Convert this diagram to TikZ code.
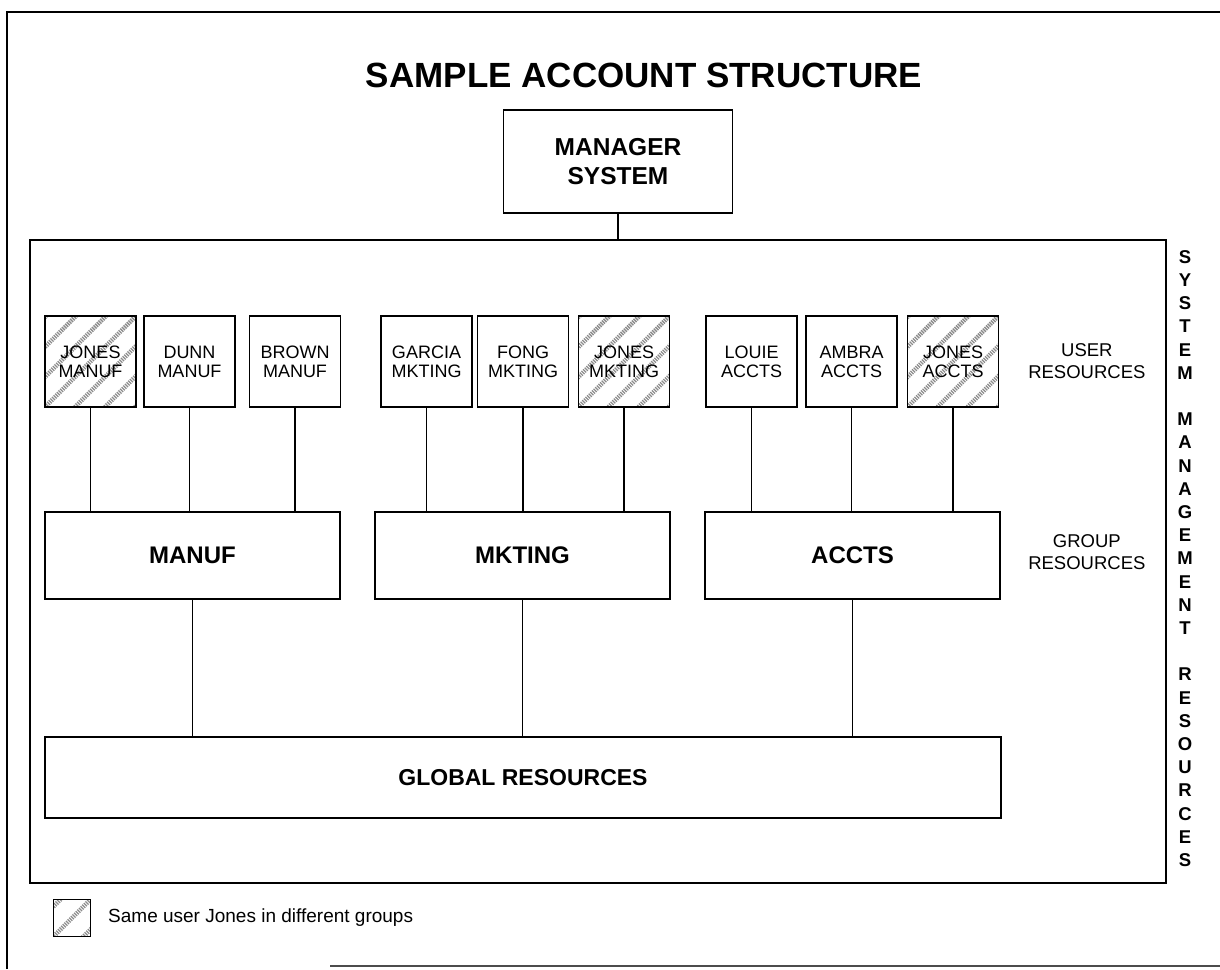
\documentclass[tikz,border=0pt]{standalone}
\usepackage{fontspec}
\setmainfont{Liberation Sans}
\usetikzlibrary{calc}

\tikzset{
  thick line/.style={line width=1.8pt},
  userbox/.style={draw, thick line, minimum width=91pt, minimum height=91pt,
    inner sep=0pt, align=center, font=\fontsize{18}{19}\selectfont},
  groupbox/.style={draw, thick line, minimum width=295pt, minimum height=87pt,
    inner sep=0pt, font=\bfseries\fontsize{24}{25}\selectfont},
  sidelabel/.style={anchor=east, align=center, font=\fontsize{18.5}{22}\selectfont},
  vletter/.style={inner sep=0pt, font=\bfseries\fontsize{18.5}{19}\selectfont},
  link/.style={thick line},
  hatch/.style={line width=4.5pt, black!45, dash pattern=on 1.3pt off 1pt},
  % diagonal hatching inside a box, under its text
  shared/.style={path picture={
    \foreach \k in {-5,...,5}
      \draw[hatch] ($(path picture bounding box.center)+(\k*30-70,70)$) -- ++(140,-140);
  }},
}

\begin{document}
\begin{tikzpicture}[x=1pt, y=-1pt]
  \useasboundingbox (0,0) rectangle (1220,969);

  % sheet border
  \draw[line width=1.5pt] (7,969) -- (7,12) -- (1220,12);
  \draw[line width=1.2pt, black!70] (330,966) -- (1220,966);

  % title
  \node[font=\bfseries\fontsize{35}{36}\selectfont] (title) at (644,75) {SAMPLE ACCOUNT STRUCTURE};

  % manager account and the system frame
  \node[draw, thick line, minimum width=229pt, minimum height=103pt, inner sep=0pt,
        align=center, font=\bfseries\fontsize{24.5}{29}\selectfont] (mgr) at (618,161.5) {MANAGER\\SYSTEM};
  \node[draw, thick line, minimum width=1136pt, minimum height=643pt, inner sep=0pt] (sys) at (598,561.5) {};
  \draw[link] (mgr.south) -- (mgr.south |- sys.north);

  % user accounts
  \node[userbox, shared] (u1) at (90.5,361.5) {JONES\\MANUF};
  \node[userbox] (u2) at (189.5,361.5) {DUNN\\MANUF};
  \node[userbox] (u3) at (295,361.5) {BROWN\\MANUF};
  \node[userbox] (u4) at (426.5,361.5) {GARCIA\\MKTING};
  \node[userbox] (u5) at (523,361.5) {FONG\\MKTING};
  \node[userbox, shared] (u6) at (624,361.5) {JONES\\MKTING};
  \node[userbox] (u7) at (751.5,361.5) {LOUIE\\ACCTS};
  \node[userbox] (u8) at (851.5,361.5) {AMBRA\\ACCTS};
  \node[userbox, shared] (u9) at (953,361.5) {JONES\\ACCTS};

  % groups
  \node[groupbox] (g1) at (192.5,555.5) {MANUF};
  \node[groupbox] (g2) at (522.5,555.5) {MKTING};
  \node[groupbox] (g3) at (852.5,555.5) {ACCTS};

  % global resources
  \node[draw, thick line, minimum width=956pt, minimum height=81pt, inner sep=0pt,
        font=\bfseries\fontsize{23}{24}\selectfont] (glob) at (523,777.5) {GLOBAL RESOURCES};

  % user-to-group links
  \foreach \usr/\grp in {u1/g1,u2/g1,u3/g1,u4/g2,u5/g2,u6/g2,u7/g3,u8/g3,u9/g3}
    \draw[link] (\usr.south) -- (\usr.south |- \grp.north);
  % group-to-global links
  \foreach \grp in {g1,g2,g3}
    \draw[link] (\grp.south) -- (\grp.south |- glob.north);

  % level labels
  \node[sidelabel] (ulab) at (1149,361) {USER\\RESOURCES};
  \node[sidelabel] (glab) at (1149,552) {GROUP\\RESOURCES};

  % vertical caption
  \foreach \ch [count=\i from 0] in {S,Y,S,T,E,M}
    \node[vletter] (vs\i) at (1185,257+\i*23.2) {\ch};
  \foreach \ch [count=\i from 7] in {M,A,N,A,G,E,M,E,N,T}
    \node[vletter] (vm\i) at (1185,257+\i*23.2) {\ch};
  \foreach \ch [count=\i from 18] in {R,E,S,O,U,R,C,E,S}
    \node[vletter] (vr\i) at (1185,257+\i*23.2) {\ch};

  % legend
  \node[draw, thick line, shared, minimum size=37pt, inner sep=0pt] (leg) at (72,918) {};
  \node[anchor=west, inner sep=0pt, font=\fontsize{19}{20}\selectfont] (legtxt) at (108,918) {Same user Jones in different groups};
\end{tikzpicture}
\end{document}
